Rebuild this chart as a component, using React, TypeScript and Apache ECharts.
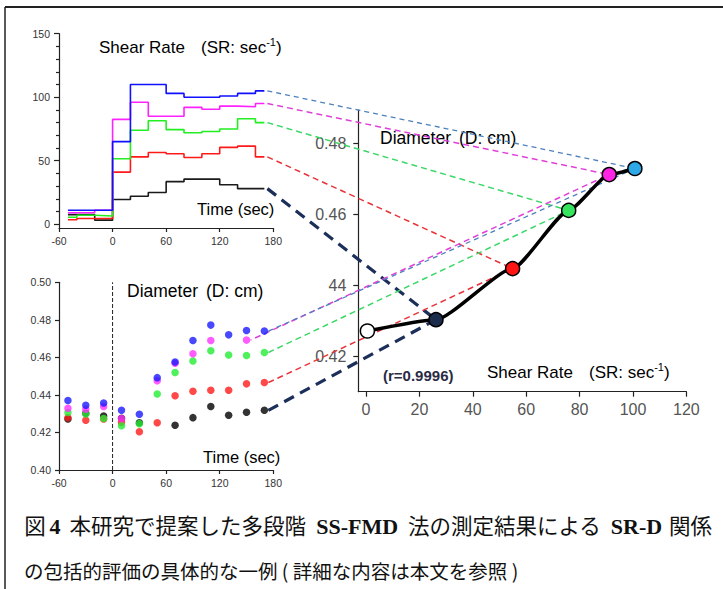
import React, { useEffect, useRef } from 'react';
import * as echarts from 'echarts';

// ---------- Shear rate vs time (step curves, top-left) ----------
const SR_TIME = [-50, -40, -20, 0, 20, 40, 60, 80, 100, 120, 140, 160, 170];
const SR_BLACK = [7.5, 7.5, 3.2, 19.5, 22, 25, 33.5, 35.5, 35.5, 31, 28, 28, 28];
const SR_RED = [3.5, 4.5, 4.5, 41, 53, 56.5, 55.5, 52.5, 55.5, 60.5, 61.5, 53, 53];
const SR_GREEN = [5.5, 7, 6.5, 51.5, 74, 81.5, 74.5, 72, 73, 75, 83, 80, 80];
const SR_MAGENTA = [9, 9, 11, 82.5, 96, 85, 85, 92, 90.5, 93, 92.5, 95, 95];
const SR_BLUE = [11, 11, 11, 65, 110, 110, 103, 100, 100, 101, 103, 105, 105];
const SR_Y_TICKS = [0, 50, 100, 150];
const SR_Y_MINOR = [10, 20, 30, 40, 60, 70, 80, 90, 110, 120, 130, 140];

// ---------- Diameter vs time (scatter, bottom-left) ----------
const D_TIME = [-50, -30, -10, 10, 30, 50, 70, 90, 110, 130, 150, 170];
const D_BLACK = [0.4272, 0.4302, 0.4288, 0.4276, 0.4252, null, 0.4238, 0.4279, 0.4338, 0.4292, 0.4308, 0.4318];
const D_RED = [0.4279, 0.4265, 0.4272, 0.4254, 0.4204, 0.4252, 0.4396, 0.442, 0.4425, 0.4425, 0.4459, 0.4466];
const D_GREEN = [0.4306, 0.4299, 0.4274, 0.4236, 0.4247, 0.4405, 0.4519, 0.4581, 0.4635, 0.4613, 0.461, 0.4626];
const D_MAGENTA = [0.4329, 0.4324, 0.4338, 0.4274, null, 0.4476, 0.4569, 0.4619, 0.469, null, 0.4692, null];
const D_BLUE = [0.437, 0.4345, 0.4357, 0.4318, 0.4297, 0.4492, 0.4575, 0.469, 0.4772, 0.472, 0.4743, 0.474];
const STIM_ONSET = 0;

// ---------- Diameter vs shear rate (right) ----------
const FIT_SR = [0.5, 26.2, 54.9, 75.9, 91.1, 100.7];
const FIT_D = [0.4271, 0.4303, 0.4447, 0.4611, 0.4712, 0.4729];
const FIT_COLORS = ['#ffffff', '#1a2b4c', '#ff1414', '#35e35c', '#ff24e4', '#2ea8e6'];
const FIT_X_TICKS = [0, 20, 40, 60, 80, 100, 120];
const FIT_Y_TICKS = [0.42, 0.44, 0.46, 0.48];

const STEP_COLORS = ['#1a1a1a', '#ff1a1a', '#22ee22', '#ff22ff', '#1010ff'];
const DOT_COLORS = ['#000000', '#ff1a1a', '#22ee33', '#ff33ff', '#1a1aff'];
const LINK_COLORS = ['#1b2f5a', '#e8333a', '#3cd867', '#e040d8', '#4f81bd'];

const SANS = "'Liberation Sans', Arial, sans-serif";
const CJK = "'Noto Sans CJK JP', sans-serif";
const SERIF = "'Liberation Serif', 'DejaVu Serif', serif";

export default function App() {
  const ref = useRef<HTMLDivElement>(null);
  useEffect(() => {
    if (!ref.current) return;
    const chart = echarts.init(ref.current, null, { renderer: 'svg' });
    const axisLine = { show: true, onZero: false, lineStyle: { color: '#222', width: 1.2 } };
    const smallLabel = { fontSize: 10.5, color: '#333', fontFamily: SANS };
    const bigLabel = { fontSize: 16, color: '#555', fontFamily: SANS };
    const srSets = [SR_BLACK, SR_RED, SR_GREEN, SR_MAGENTA, SR_BLUE];
    const dSets = [D_BLACK, D_RED, D_GREEN, D_MAGENTA, D_BLUE];

    const series: any[] = [];
    srSets.forEach((arr, i) => {
      series.push({
        type: 'line', xAxisIndex: 0, yAxisIndex: 0, step: 'end', symbol: 'none', silent: true,
        data: SR_TIME.map((t, k) => [t, arr[k]]),
        lineStyle: { color: STEP_COLORS[i], width: 1.6 },
      });
    });
    series.push({
      type: 'line', xAxisIndex: 1, yAxisIndex: 2, symbol: 'none', silent: true,
      data: [[STIM_ONSET, 0.4], [STIM_ONSET, 0.5]],
      lineStyle: { color: '#222', width: 1, type: [4, 2] },
    });
    dSets.forEach((arr, i) => {
      series.push({
        type: 'scatter', xAxisIndex: 1, yAxisIndex: 2, symbolSize: 7.5, silent: true,
        data: D_TIME.map((t, k) => [t, arr[k]]).filter((p) => p[1] != null),
        itemStyle: { color: DOT_COLORS[i] },
      });
    });
    series.push({
      type: 'line', xAxisIndex: 2, yAxisIndex: 3, smooth: 0.18, smoothMonotone: 'x', silent: true,
      symbol: 'circle', symbolSize: 14, showSymbol: true, z: 5,
      data: FIT_SR.map((x, k) => ({
        value: [x, FIT_D[k]],
        itemStyle: { color: FIT_COLORS[k], borderColor: '#000', borderWidth: 1.5 },
      })),
      lineStyle: { color: '#000', width: 3.5 },
    });

    const srTitle = (x: number, y: number) => ({
      type: 'text', x, y, z: 0,
      style: {
        text: '{a|Shear Rate}{g| }{a|(SR: sec}{s|-1}{a|)}',
        fill: '#000', verticalAlign: 'middle', align: 'left',
        rich: {
          a: { fontSize: 17, fontFamily: SANS, fill: '#000', lineHeight: 22 },
          g: { fontSize: 17, fontFamily: SANS, width: 16, lineHeight: 22 },
          s: { fontSize: 11, fontFamily: SANS, fill: '#000', lineHeight: 12, verticalAlign: 'top' },
        },
      },
    });
    const dTitle = (x: number, y: number) => ({
      type: 'text', x, y, z: 0,
      style: {
        text: '{a|Diameter}{g| }{a|(D: cm)}',
        fill: '#000', verticalAlign: 'middle', align: 'left',
        rich: {
          a: { fontSize: 17.5, fontFamily: SANS, fill: '#000' },
          g: { fontSize: 17.5, fontFamily: SANS, width: 8 },
        },
      },
    });
    const label = (x: number, y: number, text: string, extra: any = {}) => ({
      type: 'text', x, y, z: 0,
      style: { text, fill: '#000', fontSize: 16.5, fontFamily: SANS, verticalAlign: 'middle', align: 'left', ...extra },
    });

    // caption line 1 is justified in the original: each run gets its own box
    const cap1Runs: [string, string, number][] = [
      ['c', '図', 22], ['g', ' ', 3], ['b', '4', 12], ['g', ' ', 4],
      ['c', '本研究で提案した多段階', 245.3], ['g', ' ', 6], ['b', 'SS-FMD', 81.8], ['g', ' ', 6],
      ['c', '法の測定結果による', 200.7], ['g', ' ', 6], ['b', 'SR-D', 51.4], ['g', ' ', 6],
      ['c', '関係', 44.6],
    ];
    const cap1Rich: any = {};
    const cap1Text = cap1Runs.map(([kind, txt, w], i) => {
      const key = `t${i}`;
      cap1Rich[key] = kind === 'c'
        ? { fontSize: 21.5, fontFamily: CJK, fill: '#111', width: w, align: 'center', lineHeight: 28 }
        : kind === 'b'
          ? { fontSize: 22, fontFamily: SERIF, fontWeight: 'bold', fill: '#111', width: w, align: 'center', lineHeight: 28, padding: [5, 0, 0, 0] }
          : { fontSize: 20, fontFamily: SERIF, width: w, align: 'center', lineHeight: 28 };
      return `{${key}|${txt}}`;
    }).join('');

    const baseGraphic: any[] = [
      { type: 'line', shape: { x1: 5, y1: 7, x2: 723, y2: 7 }, style: { stroke: '#222', lineWidth: 2 } },
      { type: 'line', shape: { x1: 5, y1: 7, x2: 5, y2: 589 }, style: { stroke: '#222', lineWidth: 1.5 } },
      srTitle(99, 47),
      label(197, 209, 'Time (sec)'),
      dTitle(127, 291),
      label(203, 457, 'Time (sec)'),
      dTitle(380, 138),
      label(383, 375, '(r=0.9996)', { fontSize: 15, fontWeight: 'bold', fill: '#2a2a44' }),
      srTitle(487, 372),
      {
        type: 'text', x: 24, y: 524, z: 0,
        style: { text: cap1Text, verticalAlign: 'middle', align: 'left', fill: '#111', rich: cap1Rich },
      },
      {
        type: 'text', x: 24, y: 570, z: 0,
        style: {
          text: 'の包括的評価の具体的な一例 ( 詳細な内容は本文を参照 )',
          verticalAlign: 'middle', align: 'left', fill: '#111', fontSize: 19.5, fontFamily: CJK,
        },
      },
    ];

    chart.setOption({
      animation: false,
      backgroundColor: '#ffffff',
      grid: [
        { left: 59, top: 33.7, width: 214.3, height: 194.3, outerBoundsMode: 'none' },
        { left: 59, top: 282.3, width: 214.3, height: 187.7, outerBoundsMode: 'none' },
        { left: 358.3, top: 110, width: 328.1, height: 281.7, outerBoundsMode: 'none' },
      ],
      xAxis: [
        {
          gridIndex: 0, type: 'value', min: -60, max: 180, interval: 60, axisLine,
          axisTick: { show: true, length: 4, lineStyle: { color: '#222', width: 1.2 } },
          axisLabel: { ...smallLabel, margin: 7 }, splitLine: { show: false },
        },
        {
          gridIndex: 1, type: 'value', min: -60, max: 180, interval: 60, axisLine,
          axisTick: { show: true, length: 4, lineStyle: { color: '#222', width: 1.2 } },
          axisLabel: { ...smallLabel, margin: 7 }, splitLine: { show: false },
        },
        {
          gridIndex: 2, type: 'value', min: -2.9, max: 120, axisLine,
          axisTick: { show: true, length: 5, customValues: FIT_X_TICKS, lineStyle: { color: '#222', width: 1.2 } },
          axisLabel: { ...bigLabel, margin: 10, customValues: FIT_X_TICKS }, splitLine: { show: false },
        },
      ],
      yAxis: [
        {
          gridIndex: 0, type: 'value', min: -3, max: 150, axisLine,
          axisTick: { show: true, length: 5, customValues: SR_Y_TICKS, lineStyle: { color: '#222', width: 1.2 } },
          axisLabel: { ...smallLabel, margin: 9, customValues: SR_Y_TICKS }, splitLine: { show: false },
        },
        {
          gridIndex: 0, type: 'value', min: -3, max: 150, position: 'left',
          axisLine: { show: false, onZero: false },
          axisTick: { show: true, length: 3, customValues: SR_Y_MINOR, lineStyle: { color: '#222', width: 1.2 } },
          axisLabel: { show: false }, splitLine: { show: false },
        },
        {
          gridIndex: 1, type: 'value', min: 0.4, max: 0.5, interval: 0.02, axisLine,
          axisTick: { show: true, length: 4, lineStyle: { color: '#222', width: 1.2 } },
          axisLabel: { ...smallLabel, margin: 8, formatter: (v: number) => v.toFixed(2) },
          splitLine: { show: false },
        },
        {
          gridIndex: 2, type: 'value', min: 0.41, max: 0.4894, axisLine,
          axisTick: { show: true, length: 5, customValues: FIT_Y_TICKS, lineStyle: { color: '#222', width: 1.2 } },
          axisLabel: {
            ...bigLabel, margin: 12, customValues: FIT_Y_TICKS,
            formatter: (v: number) => (Math.abs(v - 0.44) < 1e-6 ? '44' : v.toFixed(2)),
          },
          splitLine: { show: false },
        },
      ],
      series,
      graphic: baseGraphic,
    });

    // connector lines: end of each SR curve / diameter series -> its point on the SR-D plot
    const links: any[] = [];
    const fitIdx = [1, 2, 3, 4, 5];
    const widths = [3.2, 1.5, 1.5, 1.5, 1.3];
    const dashes = [[11, 7], [6, 4], [6, 4], [6, 4], [5, 4]];
    srSets.forEach((arr, i) => {
      const last = SR_TIME.length - 1;
      const a = chart.convertToPixel({ seriesIndex: i }, [SR_TIME[last], arr[last]]) as number[];
      const fk = fitIdx[i];
      const b = chart.convertToPixel({ seriesIndex: 11 }, [FIT_SR[fk], FIT_D[fk]]) as number[];
      links.push({
        type: 'line', z: 1,
        shape: { x1: a[0] + 3, y1: a[1], x2: b[0], y2: b[1] },
        style: { stroke: LINK_COLORS[i], lineWidth: widths[i], lineDash: dashes[i] },
      });
    });
    dSets.forEach((arr, i) => {
      let k = arr.length - 1;
      while (k >= 0 && arr[k] == null) k--;
      const a = chart.convertToPixel({ seriesIndex: 6 + i }, [D_TIME[k], arr[k] as number]) as number[];
      const fk = fitIdx[i];
      const b = chart.convertToPixel({ seriesIndex: 11 }, [FIT_SR[fk], FIT_D[fk]]) as number[];
      links.push({
        type: 'line', z: 1,
        shape: { x1: a[0] + 4, y1: a[1], x2: b[0], y2: b[1] },
        style: { stroke: LINK_COLORS[i], lineWidth: widths[i], lineDash: dashes[i], lineDashOffset: i === 3 ? 5 : 0 },
      });
    });
    chart.setOption({ graphic: [...baseGraphic, ...links] });

    return () => chart.dispose();
  }, []);
  return <div ref={ref} style={{ position: 'fixed', left: 0, top: 0, width: 723, height: 589 }} />;
}
